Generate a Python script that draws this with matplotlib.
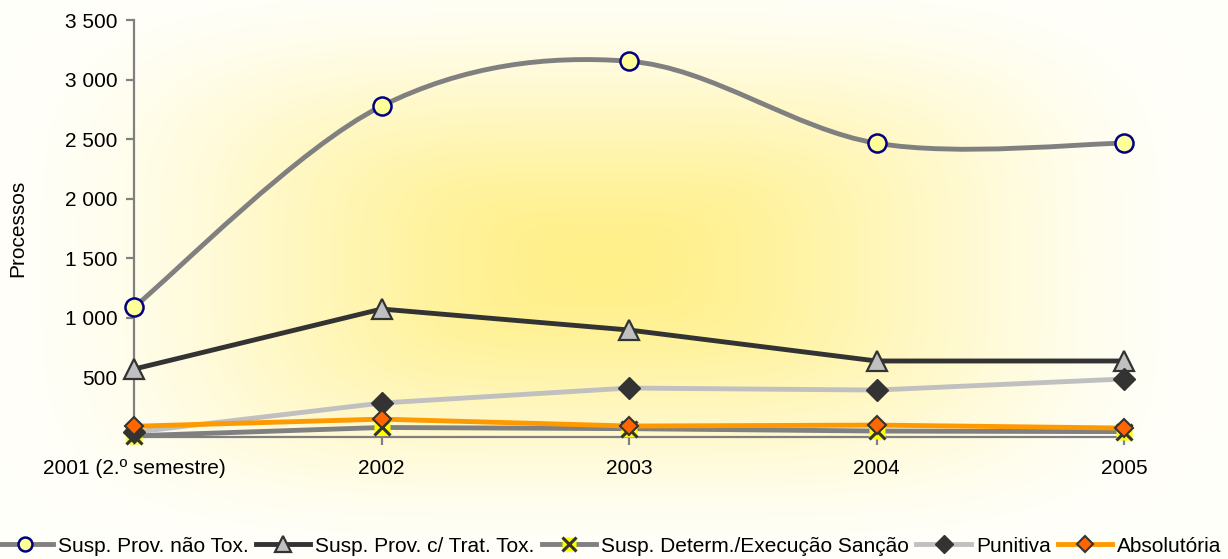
import matplotlib.pyplot as plt
import numpy as np
from matplotlib.lines import Line2D
from matplotlib.legend_handler import HandlerTuple
from matplotlib.path import Path
from matplotlib.patches import PathPatch
from matplotlib.ticker import FuncFormatter

plt.rcParams["font.family"] = ["Liberation Sans", "DejaVu Sans"]

years = ["2001 (2.º semestre)", "2002", "2003", "2004", "2005"]
nao_tox = [1090, 2777, 3154, 2466, 2466]
trat_tox = [570, 1074, 898, 638, 638]
determ = [10, 80, 70, 50, 45]
punitiva = [40, 285, 411, 394, 487]
absolutoria = [90, 150, 92, 100, 75]

x = np.arange(len(years))


def smooth_path(xs, ys):
    # excel-like smoothed line: cubic bezier through the points
    pts = np.column_stack([xs, ys]).astype(float)
    n = len(pts)
    verts = [pts[0]]
    codes = [Path.MOVETO]
    for i in range(n - 1):
        p0 = pts[max(i - 1, 0)]
        p1 = pts[i]
        p2 = pts[i + 1]
        p3 = pts[min(i + 2, n - 1)]
        verts += [p1 + (p2 - p0) / 6, p2 - (p3 - p1) / 6, p2]
        codes += [Path.CURVE4] * 3
    return Path(verts, codes)


W, H = 1228, 559
fig = plt.figure(figsize=(W / 100, H / 100), dpi=100)

# background: "from center" gradient, softened
bg = fig.add_axes([0, 0, 1, 1], zorder=-1)
gx, gy = np.meshgrid(np.arange(W), np.arange(H))
dx = np.abs(gx - 600) / 620
dy = np.abs(gy - 265) / 300
t = np.clip((dx ** 4 + dy ** 4) ** 0.25, 0, 1)
t = t * t * (3 - 2 * t)
c0 = np.array([255, 240, 138]) / 255
c1 = np.array([255, 255, 250]) / 255
img = c0[None, None, :] * (1 - t[..., None]) + c1[None, None, :] * t[..., None]
bg.imshow(img, extent=[0, 1, 0, 1], aspect="auto", origin="upper")
bg.axis("off")

ax = fig.add_axes([134 / W, 122 / H, (1124 - 134) / W, (437 - 20) / H])
ax.patch.set_alpha(0)

lw = 3.5

# series 1: smoothed
ax.add_patch(PathPatch(smooth_path(x, nao_tox), fill=False, edgecolor="#808080",
                       lw=lw, zorder=3, capstyle="round"))
ax.plot(x, nao_tox, ls="none", marker="o", ms=13, mfc="#FFFF99", mec="#000080",
        mew=1.8, zorder=4, clip_on=False)

ax.plot(x, trat_tox, color="#333333", lw=lw, marker="^", ms=14, mfc="#C0C0C0",
        mec="#333333", mew=1.6, zorder=5, clip_on=False)

ax.plot(x, determ, color="#808080", lw=lw, zorder=6, clip_on=False)
ax.plot(x, determ, ls="none", marker="s", ms=11, mfc="#FFFF00", mec="none",
        zorder=6, clip_on=False)
ax.plot(x, determ, ls="none", marker="x", ms=11, mec="#333333", mew=2.2,
        zorder=6, clip_on=False)

ax.plot(x, punitiva, color="#C0C0C0", lw=lw, marker="D", ms=11, mfc="#333333",
        mec="#333333", zorder=7, clip_on=False)

ax.plot(x, absolutoria, color="#FF9900", lw=lw, marker="D", ms=9, mfc="#FF6600",
        mec="#333333", mew=1.5, zorder=8, clip_on=False)

ax.set_xlim(0, 4)
ax.set_ylim(0, 3500)
ax.set_xticks(x)
ax.set_xticklabels(years)
ax.set_yticks(np.arange(500, 3501, 500))
ax.yaxis.set_major_formatter(FuncFormatter(lambda v, p: f"{int(v):,}".replace(",", " ")))
for s in ["top", "right"]:
    ax.spines[s].set_visible(False)
for s in ["left", "bottom"]:
    ax.spines[s].set_color("#808080")
    ax.spines[s].set_linewidth(1.6)
ax.tick_params(axis="both", colors="#808080", labelcolor="black", labelsize=15,
               width=1.6, length=5.5)
ax.tick_params(axis="y", pad=6.5)
ax.tick_params(axis="x", pad=10)
fig.text(18 / W, 1 - 228 / H, "Processos", rotation=90, fontsize=15,
         ha="center", va="center")

handles = [
    Line2D([], [], color="#808080", lw=lw, marker="o", ms=10, mfc="#FFFF99",
           mec="#000080", mew=1.8),
    Line2D([], [], color="#333333", lw=lw, marker="^", ms=11, mfc="#C0C0C0",
           mec="#333333", mew=1.6),
    (Line2D([], [], color="#808080", lw=lw, marker="s", ms=10, mfc="#FFFF00", mec="none"),
     Line2D([], [], ls="none", marker="x", ms=10, mec="#333333", mew=2.2)),
    Line2D([], [], color="#C0C0C0", lw=lw, marker="D", ms=9, mfc="#333333", mec="#333333"),
    Line2D([], [], color="#FF9900", lw=lw, marker="D", ms=8, mfc="#FF6600",
           mec="#333333", mew=1.5),
]
labels = ["Susp. Prov. não Tox.", "Susp. Prov. c/ Trat. Tox.",
          "Susp. Determ./Execução Sanção", "Punitiva", "Absolutória"]
fig.legend(handles, labels, loc="center", bbox_to_anchor=(610 / W, 13 / H), ncol=5,
           frameon=False, fontsize=15, handlelength=2.6, handletextpad=0.25,
           columnspacing=0.35, borderpad=0, borderaxespad=0,
           handler_map={tuple: HandlerTuple(ndivide=1)})

fig.savefig("out.png", dpi=100)
